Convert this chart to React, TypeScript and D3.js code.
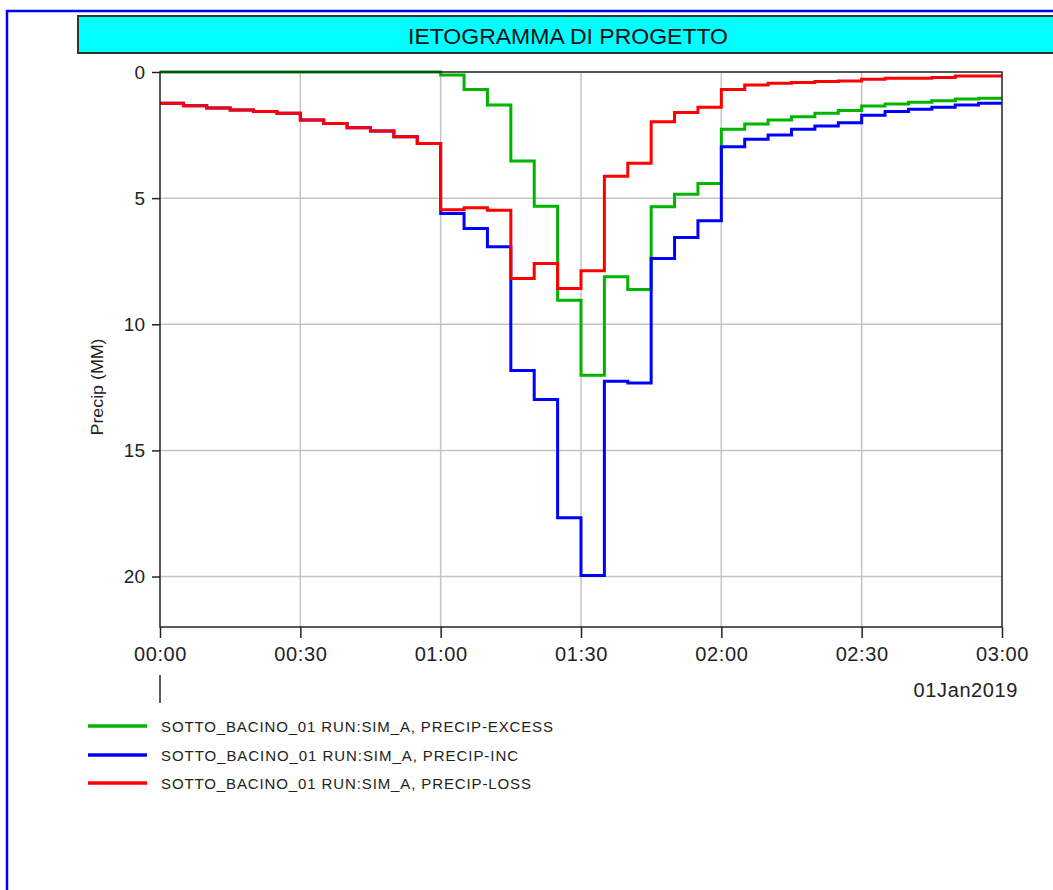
import { useEffect, useRef } from "react";
import * as d3 from "d3";

const LAYOUT = {
  width: 1053,
  height: 890,
  plot: { left: 160, right: 1002, top: 72, bottom: 627 },
  titleBox: { x: 78, y: 16, height: 37 },
  font: "'Liberation Sans', Arial, sans-serif",
};

const TITLE = "IETOGRAMMA DI PROGETTO";
const Y_LABEL = "Precip (MM)";
const DATE_LABEL = "01Jan2019";
const Y_DOMAIN = [0, 22];
const Y_TICKS = [0, 5, 10, 15, 20];
const START = new Date(Date.UTC(2019, 0, 1, 0, 0));
const END = new Date(Date.UTC(2019, 0, 1, 3, 0));
const STEP_MINUTES = 5;

// 5-minute interval depths (mm), 00:00 -> 03:00
const PRECIP_EXCESS = [
  0, 0, 0, 0, 0, 0, 0, 0, 0, 0, 0, 0,
  0.12, 0.69, 1.31, 3.53, 5.32, 9.05, 12.02, 8.12, 8.62, 5.34, 4.85, 4.42,
  2.27, 2.06, 1.9, 1.77, 1.64, 1.53, 1.35, 1.27, 1.2, 1.14, 1.07, 1.04,
];
const PRECIP_INC = [
  1.24, 1.34, 1.43, 1.51, 1.57, 1.64, 1.9, 2.04, 2.21, 2.34, 2.57, 2.83,
  5.61, 6.2, 6.93, 11.83, 12.98, 17.67, 19.96, 12.26, 12.33, 7.39, 6.56, 5.9,
  2.96, 2.67, 2.5, 2.27, 2.14, 2.01, 1.71, 1.57, 1.48, 1.4, 1.31, 1.24,
];
const PRECIP_LOSS = [
  1.24, 1.34, 1.43, 1.51, 1.57, 1.64, 1.9, 2.04, 2.21, 2.34, 2.57, 2.83,
  5.46, 5.38, 5.48, 8.19, 7.59, 8.58, 7.88, 4.13, 3.62, 1.97, 1.61, 1.4,
  0.69, 0.52, 0.45, 0.42, 0.38, 0.36, 0.29, 0.25, 0.25, 0.22, 0.16, 0.16,
];

const SERIES = [
  { name: "SOTTO_BACINO_01 RUN:SIM_A, PRECIP-EXCESS", values: PRECIP_EXCESS, color: "#00b400", textLength: 392 },
  { name: "SOTTO_BACINO_01 RUN:SIM_A, PRECIP-INC", values: PRECIP_INC, color: "#0000ff", textLength: 357 },
  { name: "SOTTO_BACINO_01 RUN:SIM_A, PRECIP-LOSS", values: PRECIP_LOSS, color: "#ff0000", textLength: 370 },
];

function buildScales() {
  const { plot } = LAYOUT;
  const x = d3.scaleUtc().domain([START, END]).range([plot.left, plot.right]);
  const y = d3.scaleLinear().domain(Y_DOMAIN).range([plot.top, plot.bottom]);
  return { x, y };
}

function drawFrame(svg) {
  const { titleBox, font } = LAYOUT;
  // blue outer border (runs off the right/bottom of the window)
  svg.append("rect")
    .attr("x", 7).attr("y", 11)
    .attr("width", 1200).attr("height", 1000)
    .attr("fill", "none")
    .attr("stroke", "#0000ff")
    .attr("stroke-width", 2.5);

  svg.append("rect")
    .attr("x", titleBox.x).attr("y", titleBox.y)
    .attr("width", 1100).attr("height", titleBox.height)
    .attr("fill", "#00ffff")
    .attr("stroke", "#333")
    .attr("stroke-width", 2);

  svg.append("text")
    .attr("x", 568)
    .attr("y", 44)
    .attr("text-anchor", "middle")
    .attr("font-family", font)
    .attr("font-size", 22)
    .attr("textLength", 320)
    .attr("lengthAdjust", "spacingAndGlyphs")
    .attr("fill", "#111")
    .text(TITLE);
}

function drawGrid(svg, scales) {
  const { plot } = LAYOUT;
  const g = svg.append("g").attr("stroke", "#c4c4c4").attr("stroke-width", 1.5);
  const xTicks = scales.x.ticks(d3.utcMinute.every(30));
  g.selectAll("line.vx")
    .data(xTicks.slice(1, -1))
    .join("line")
    .attr("x1", (d) => scales.x(d)).attr("x2", (d) => scales.x(d))
    .attr("y1", plot.top).attr("y2", plot.bottom);
  g.selectAll("line.hy")
    .data(Y_TICKS.slice(1))
    .join("line")
    .attr("x1", plot.left).attr("x2", plot.right)
    .attr("y1", (d) => scales.y(d)).attr("y2", (d) => scales.y(d));
}

function drawCurves(svg, scales) {
  const line = d3.line()
    .x((d) => scales.x(d.t))
    .y((d) => scales.y(d.v))
    .curve(d3.curveStepAfter);

  SERIES.forEach((s) => {
    const pts = s.values.map((v, i) => ({ t: d3.utcMinute.offset(START, i * STEP_MINUTES), v }));
    pts.push({ t: END, v: s.values[s.values.length - 1] });
    svg.append("path")
      .datum(pts)
      .attr("fill", "none")
      .attr("stroke", s.color)
      .attr("stroke-width", 3)
      .attr("stroke-linejoin", "miter")
      .attr("d", line);
  });
}

function drawAxes(svg, scales) {
  const { plot, font } = LAYOUT;
  svg.append("rect")
    .attr("x", plot.left).attr("y", plot.top)
    .attr("width", plot.right - plot.left)
    .attr("height", plot.bottom - plot.top)
    .attr("fill", "none")
    .attr("stroke", "#222")
    .attr("stroke-width", 1.5);

  const yAxis = d3.axisLeft(scales.y).tickValues(Y_TICKS).tickSize(8).tickPadding(7);
  const gy = svg.append("g").attr("transform", `translate(${plot.left},0)`).call(yAxis);
  gy.select(".domain").remove();
  gy.selectAll("line").attr("stroke", "#222").attr("stroke-width", 1.5);
  gy.selectAll("text")
    .attr("font-family", font)
    .attr("font-size", 19)
    .attr("fill", "#222");

  const xAxis = d3.axisBottom(scales.x)
    .ticks(d3.utcMinute.every(30))
    .tickFormat(d3.utcFormat("%H:%M"))
    .tickSize(11)
    .tickPadding(9);
  const gx = svg.append("g").attr("transform", `translate(0,${plot.bottom})`).call(xAxis);
  gx.select(".domain").remove();
  gx.selectAll("line").attr("stroke", "#222").attr("stroke-width", 1.5);
  gx.selectAll("text")
    .attr("font-family", font)
    .attr("font-size", 20)
    .attr("letter-spacing", 0.6)
    .attr("fill", "#222");

  svg.append("text")
    .attr("x", 1018)
    .attr("y", 697)
    .attr("text-anchor", "end")
    .attr("font-family", font)
    .attr("font-size", 20)
    .attr("letter-spacing", 0.6)
    .attr("fill", "#222")
    .text(DATE_LABEL);

  svg.append("line")
    .attr("x1", plot.left).attr("x2", plot.left)
    .attr("y1", 675).attr("y2", 703)
    .attr("stroke", "#222")
    .attr("stroke-width", 1.5);

  svg.append("text")
    .attr("transform", "translate(103,387) rotate(-90)")
    .attr("text-anchor", "middle")
    .attr("font-family", font)
    .attr("font-size", 17)
    .attr("textLength", 97)
    .attr("lengthAdjust", "spacingAndGlyphs")
    .attr("fill", "#222")
    .text(Y_LABEL);
}

function drawLegend(svg) {
  const { font } = LAYOUT;
  const rows = [726, 755, 783];
  SERIES.forEach((s, i) => {
    svg.append("line")
      .attr("x1", 88).attr("x2", 147)
      .attr("y1", rows[i]).attr("y2", rows[i])
      .attr("stroke", s.color)
      .attr("stroke-width", 3.5);
    svg.append("text")
      .attr("x", 161)
      .attr("y", rows[i] + 6)
      .attr("font-family", font)
      .attr("font-size", 15)
      .attr("textLength", s.textLength)
      .attr("lengthAdjust", "spacing")
      .attr("fill", "#222")
      .text(s.name);
  });
}

export default function App() {
  const ref = useRef(null);

  useEffect(() => {
    const node = ref.current;
    if (!node) return;
    const svg = d3.select(node);
    svg.selectAll("*").remove();

    const scales = buildScales();
    drawFrame(svg);
    drawGrid(svg, scales);
    drawCurves(svg, scales);
    drawAxes(svg, scales);
    drawLegend(svg);
  }, []);

  return (
    <svg
      ref={ref}
      width={LAYOUT.width}
      height={LAYOUT.height}
      style={{ position: "absolute", left: 0, top: 0, background: "#fff" }}
    />
  );
}
